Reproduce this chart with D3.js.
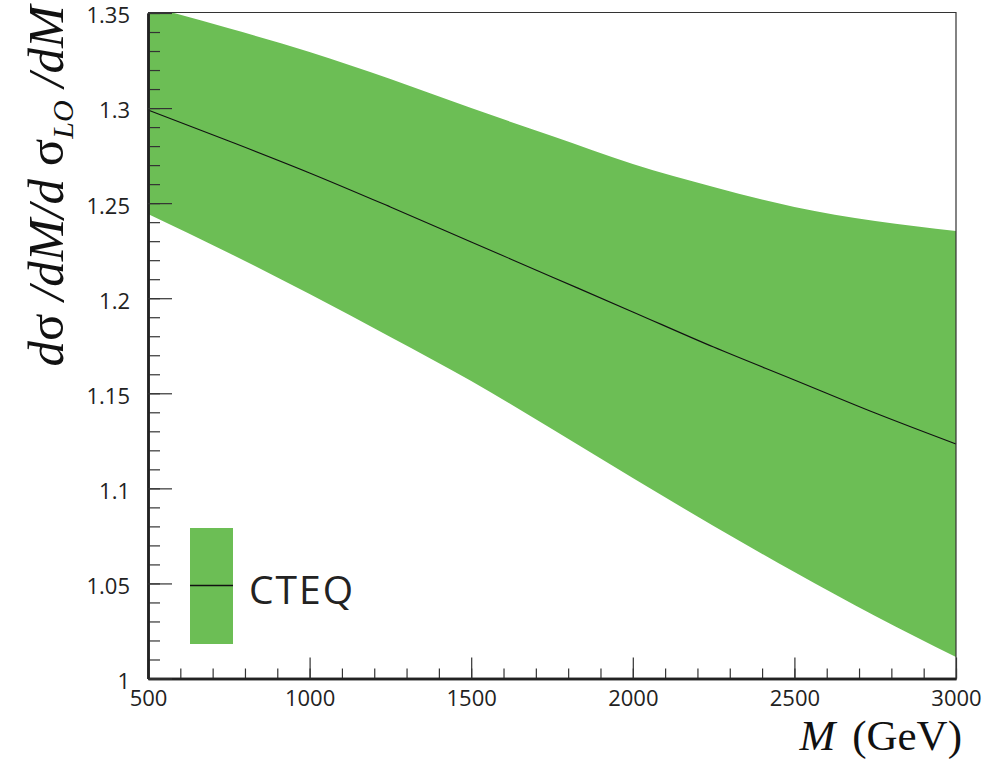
<!DOCTYPE html>
<html lang="en">
<head>
    <meta charset="UTF-8">
    <title>CTEQ band</title>
    <script src="https://d3js.org/d3.v7.min.js"></script>
    <style>
        body { margin: 0; background: #fff; }
        .tick text { font-family: "Open Sans", sans-serif; fill: #222; }
    </style>
</head>
<body>

<svg id="main" width="990" height="761"></svg>
<script>

    // mass points (GeV) and values
    const masses = [500, 750, 1000, 1250, 1500, 1750, 2000, 2250, 2500, 2750, 3000];
    const central = [1.299, 1.2827, 1.2659, 1.248, 1.2296, 1.2112, 1.1928, 1.1743, 1.157, 1.1396, 1.1233];
    const upper = [1.3537, 1.3420, 1.3295, 1.3153, 1.3000, 1.2853, 1.2706, 1.2585, 1.248, 1.2406, 1.2354];
    const lower = [1.2443, 1.2238, 1.2022, 1.1796, 1.1565, 1.1312, 1.1055, 1.0802, 1.056, 1.0329, 1.0113];

    const xMajorTicks = [500, 1000, 1500, 2000, 2500, 3000];
    const xMinorTicks = d3.range(500, 3001, 100);
    const yMajorTicks = [1, 1.05, 1.1, 1.15, 1.2, 1.25, 1.3, 1.35];
    const yMinorTicks = d3.range(100, 136, 1).map(v => v / 100);
    const legendLabel = 'CTEQ';

    const pLeft = 148, pRight = 956, pTop = 13, pBottom = 678.5;

    let svg = d3.select('svg#main')

    let xScale = d3.scaleLinear().domain([500, 3000]).range([pLeft, pRight]);
    let yScale = d3.scaleLinear().domain([1, 1.35]).range([pBottom, pTop]);

    let rows = masses.map((m, i) => ({m: m, c: central[i], hi: upper[i], lo: lower[i]}));

    svg.append('clipPath').attr('id', 'plot')
        .append('rect')
        .attr('x', pLeft).attr('y', pTop)
        .attr('width', pRight - pLeft).attr('height', pBottom - pTop);

    //the green band
    let area = d3.area()
        .curve(d3.curveMonotoneX)
        .x(d => xScale(d.m))
        .y0(d => yScale(d.lo))
        .y1(d => yScale(d.hi));

    svg.append('path')
        .datum(rows)
        .attr('clip-path', 'url(#plot)')
        .attr('fill', '#6cbe55')
        .attr('d', area);

    //central line
    let line = d3.line()
        .curve(d3.curveMonotoneX)
        .x(d => xScale(d.m))
        .y(d => yScale(d.c));

    svg.append('path')
        .datum(rows)
        .attr('fill', 'none')
        .attr('stroke', '#111')
        .attr('stroke-width', 1.1)
        .attr('d', line);

    //frame top and right
    svg.append('path')
        .attr('d', `M${pLeft},${pTop - 0.5}H${pRight}V${pBottom}`)
        .attr('fill', 'none')
        .attr('stroke', '#333')
        .attr('stroke-width', 1.2);

    //axes
    let xMinor = d3.axisBottom(xScale).tickValues(xMinorTicks).tickSize(-10).tickSizeOuter(0).tickFormat('');
    let xMajor = d3.axisBottom(xScale).tickValues(xMajorTicks).tickSize(-21).tickSizeOuter(0).tickPadding(12).tickFormat(d3.format('d'));
    let yMinor = d3.axisLeft(yScale).tickValues(yMinorTicks).tickSize(-12).tickSizeOuter(0).tickFormat('');
    let yMajor = d3.axisLeft(yScale).tickValues(yMajorTicks).tickSize(-24).tickSizeOuter(0).tickPadding(18).tickFormat(d => d3.format('')(+d.toFixed(2)));

    [xMinor, xMajor].forEach(ax => {
        svg.append('g').attr('transform', `translate(0,${pBottom})`).call(ax);
    });
    [yMinor, yMajor].forEach(ax => {
        svg.append('g').attr('class', 'yax').attr('transform', `translate(${pLeft},0)`).call(ax);
    });

    svg.selectAll('.tick line').attr('stroke', '#333').attr('stroke-width', 1.2);
    svg.selectAll('.domain').attr('stroke', '#222').attr('stroke-width', 2.5);
    svg.selectAll('.tick text').attr('font-size', 22);
    svg.selectAll('.yax .tick text').attr('dy', '0.45em');

    //legend
    svg.append('rect')
        .attr('x', 190).attr('y', 528)
        .attr('width', 43).attr('height', 116)
        .attr('fill', '#6cbe55');
    svg.append('line')
        .attr('x1', 190).attr('x2', 233)
        .attr('y1', 585.5).attr('y2', 585.5)
        .attr('stroke', '#111').attr('stroke-width', 1.3);
    svg.append('text')
        .attr('x', 249).attr('y', 604)
        .attr('font-family', '"Open Sans", sans-serif')
        .attr('font-size', 39)
        .attr('fill', '#222')
        .attr('letter-spacing', 2)
        .text(legendLabel);

    //x title
    let xt = svg.append('text')
        .attr('x', 962).attr('y', 750)
        .attr('text-anchor', 'end')
        .attr('font-family', '"Liberation Serif", serif')
        .attr('font-size', 43)
        .attr('fill', '#111');
    xt.append('tspan').attr('font-style', 'italic').text('M');
    xt.append('tspan').attr('dx', 6).text(' (GeV)');

    //y title
    let yt = svg.append('text')
        .attr('transform', 'translate(63,186) rotate(-90)')
        .attr('text-anchor', 'middle')
        .attr('font-family', '"Liberation Serif", serif')
        .attr('font-size', 51)
        .attr('fill', '#111');
    yt.append('tspan').attr('font-style', 'italic').text('d');
    yt.append('tspan').text('σ');
    yt.append('tspan').attr('font-style', 'italic').text(' /dM/d ');
    yt.append('tspan').text('σ');
    yt.append('tspan').attr('font-style', 'italic').attr('font-size', 30).attr('dy', 10).text('LO');
    yt.append('tspan').attr('font-style', 'italic').attr('dy', -10).text(' /dM');

</script>
</body>
</html>
